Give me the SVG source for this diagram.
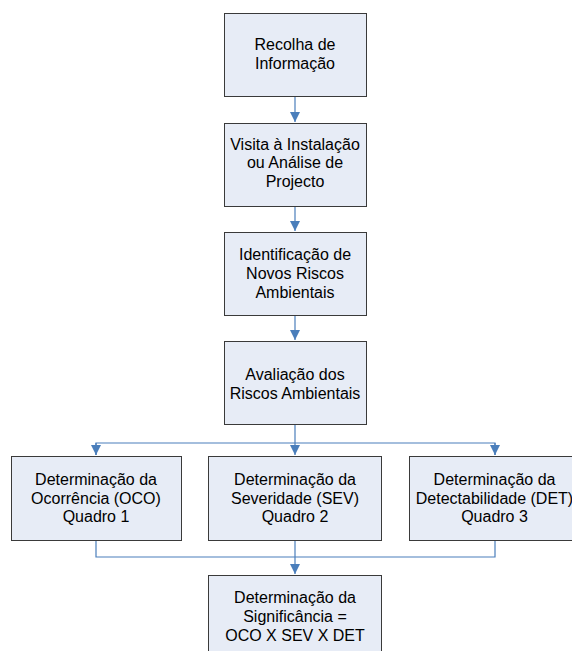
<svg xmlns="http://www.w3.org/2000/svg" width="572" height="651" viewBox="0 0 572 651">
<style>
.box{fill:#E7ECF6;stroke:#3A3A3A;stroke-width:1}
.t{font-family:"Liberation Sans",Arial,sans-serif;font-size:16px;fill:#000;text-anchor:middle}
.c{fill:none;stroke:#4A7EBB;stroke-width:1.2}
</style>
<defs>
<marker id="ah" markerUnits="userSpaceOnUse" markerWidth="12" markerHeight="11" refX="10" refY="5" orient="auto">
<path d="M0,0 L10,5 L0,10 z" fill="#4A7EBB"/>
</marker>
</defs>
<rect width="572" height="651" fill="#fff"/>
<g id="connectors">
<line class="c" x1="295" y1="96" x2="295" y2="122" marker-end="url(#ah)"/>
<line class="c" x1="295" y1="207" x2="295" y2="231" marker-end="url(#ah)"/>
<line class="c" x1="295" y1="316" x2="295" y2="340" marker-end="url(#ah)"/>
<line class="c" x1="295" y1="425" x2="295" y2="455" marker-end="url(#ah)"/>
<polyline class="c" points="96,455 96,443 495,443 495,455"/>
<line class="c" x1="96" y1="443" x2="96" y2="455" marker-end="url(#ah)"/>
<line class="c" x1="495" y1="443" x2="495" y2="455" marker-end="url(#ah)"/>
<polyline class="c" points="96,541 96,557 495,557 495,541"/>
<line class="c" x1="295" y1="541" x2="295" y2="574" marker-end="url(#ah)"/>
</g>
<g id="n1">
<rect class="box" x="224.5" y="13.5" width="142" height="83"/>
<text class="t" x="295" y="50">Recolha de</text>
<text class="t" x="295" y="68.5">Informação</text>
</g>
<g id="n2">
<rect class="box" x="224.5" y="123.5" width="142" height="83"/>
<text class="t" x="295" y="149.5">Visita à Instalação</text>
<text class="t" x="295" y="168">ou Análise de</text>
<text class="t" x="295" y="186.5">Projecto</text>
</g>
<g id="n3">
<rect class="box" x="224.5" y="232.5" width="142" height="83"/>
<text class="t" x="295" y="259.5">Identificação de</text>
<text class="t" x="295" y="278.5">Novos Riscos</text>
<text class="t" x="295" y="297.5">Ambientais</text>
</g>
<g id="n4">
<rect class="box" x="224.5" y="341.5" width="142" height="83"/>
<text class="t" x="295" y="379.5">Avaliação dos</text>
<text class="t" x="295" y="398.5">Riscos Ambientais</text>
</g>
<g id="n5">
<rect class="box" x="11.5" y="456.5" width="170" height="84"/>
<text class="t" x="96" y="485">Determinação da</text>
<text class="t" x="96" y="503.5">Ocorrência (OCO)</text>
<text class="t" x="96" y="522">Quadro 1</text>
</g>
<g id="n6">
<rect class="box" x="208.5" y="456.5" width="173" height="84"/>
<text class="t" x="295" y="485">Determinação da</text>
<text class="t" x="295" y="503.5">Severidade (SEV)</text>
<text class="t" x="295" y="522">Quadro 2</text>
</g>
<g id="n7">
<rect class="box" x="409.5" y="456.5" width="172" height="84"/>
<text class="t" x="494.5" y="485">Determinação da</text>
<text class="t" x="494.5" y="503.5">Detectabilidade (DET)</text>
<text class="t" x="494.5" y="522">Quadro 3</text>
</g>
<g id="n8">
<rect class="box" x="208.5" y="575.5" width="173" height="84"/>
<text class="t" x="295" y="603">Determinação da</text>
<text class="t" x="295" y="621.5">Significância =</text>
<text class="t" x="295" y="640.5">OCO X SEV X DET</text>
</g>
</svg>
